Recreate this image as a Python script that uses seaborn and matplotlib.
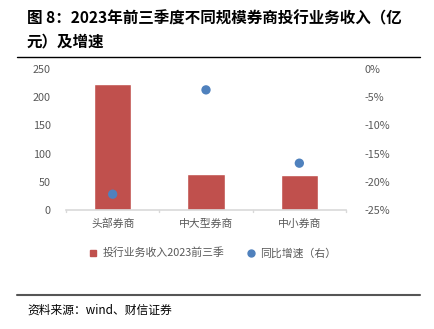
import matplotlib
matplotlib.use("Agg")
import matplotlib.pyplot as plt
from matplotlib.lines import Line2D
from matplotlib.ticker import FuncFormatter
import seaborn as sns
import pandas as pd

# 2023前三季度不同规模券商投行业务收入（亿元）及同比增速
categories = ["头部券商", "中大型券商", "中小券商"]
revenue = [224, 64, 62.6]          # 投行业务收入 2023 前三季，亿元
growth = [-22.2, -3.7, -16.7]      # 同比增速，%
left_ticks = [0, 50, 100, 150, 200, 250]
right_ticks = [0, -5, -10, -15, -20, -25]

sns.set_theme(style="white")
plt.rcParams["font.family"] = ["Noto Sans CJK SC", "DejaVu Sans"]

BAR = "#C0504D"
DOT = "#4F81BD"
TXT = "#595959"
GRID = "#D9D9D9"

W, H = 435, 329
fig = plt.figure(figsize=(W / 100, H / 100), dpi=100)

# axes box in pixels: x 66..346, y 69..210
ax = fig.add_axes([66 / W, 1 - 210 / H, 280 / W, 141 / H])

df = pd.DataFrame({"cat": categories, "rev": revenue, "g": growth})
sns.barplot(data=df, x="cat", y="rev", color=BAR, width=0.4, saturation=1,
            ax=ax, zorder=2)
ax.set_xlim(-0.5, 2.5)
ax.set_ylim(0, 250)
ax.set_yticks(left_ticks)
ax.set_xlabel("")
ax.set_ylabel("")

ax2 = ax.twinx()
sns.scatterplot(data=df, x="cat", y="g", color=DOT, s=45, edgecolor="none",
                ax=ax2, zorder=3)
ax2.set_ylim(-25, 0)
ax2.set_yticks(right_ticks)
ax2.yaxis.set_major_formatter(FuncFormatter(lambda v, p: f"{v:.0f}%"))
ax2.set_ylabel("")
ax2.set_xlim(-0.5, 2.5)

for a in (ax, ax2):
    for s in ("top", "left", "right", "bottom"):
        a.spines[s].set_visible(False)
    a.tick_params(axis="y", length=0, labelsize=7.8, labelcolor=TXT)

ax.spines["bottom"].set_visible(True)
ax.spines["bottom"].set_color(GRID)
ax.spines["bottom"].set_linewidth(1.2)
ax.tick_params(axis="y", pad=11)
ax2.tick_params(axis="y", pad=13)

# category labels, with short separators hanging below the axis line
ax.set_xticks([0, 1, 2])
ax.set_xticklabels(categories)
ax.tick_params(axis="x", length=0, labelsize=7.8, labelcolor=TXT, pad=6)
for xb in (-0.5, 0.5, 1.5, 2.5):
    ax.plot([xb, xb], [0, -3], color=GRID, lw=1, clip_on=False)

# legend
handles = [
    Line2D([], [], marker="s", linestyle="none", color=BAR, markersize=5),
    Line2D([], [], marker="o", linestyle="none", color=DOT, markersize=5),
]
labels = ["投行业务收入2023前三季", "同比增速（右）"]
fig.legend(handles, labels, loc="center", bbox_to_anchor=(212 / W, 1 - 253 / H),
           ncol=2, frameon=False, fontsize=7.8, labelcolor=TXT,
           handletextpad=0.3, columnspacing=2.0, handlelength=1.0)

# title
fig.text(27 / W, 1 - 18 / H, "图 8：2023年前三季度不同规模券商投行业务收入（亿",
         fontsize=11.2, fontweight="bold", color="black", va="center", ha="left")
fig.text(27 / W, 1 - 41 / H, "元）及增速",
         fontsize=11.2, fontweight="bold", color="black", va="center", ha="left")
fig.add_artist(Line2D([17 / W, 420 / W], [1 - 57 / H, 1 - 57 / H],
                      color="black", lw=1.0))

# source
fig.add_artist(Line2D([17 / W, 420 / W], [1 - 295 / H, 1 - 295 / H],
                      color="#555555", lw=1.5))
fig.text(27 / W, 1 - 310 / H, "资料来源：wind、财信证券", fontsize=8.5,
         style="italic", color="black", va="center", ha="left")

fig.savefig("out.png", dpi=100)
